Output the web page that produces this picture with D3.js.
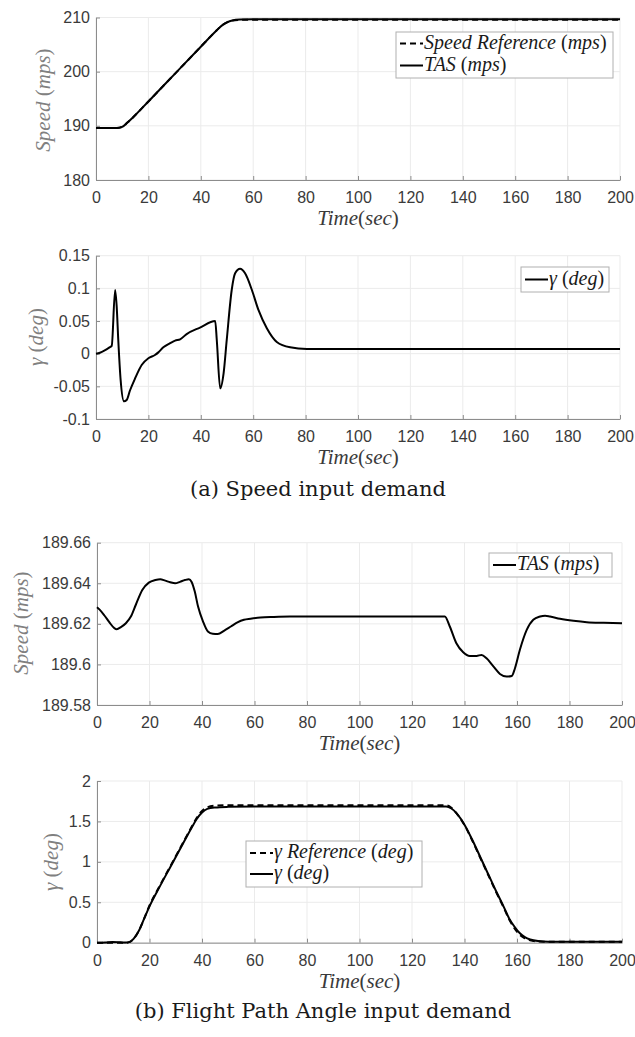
<!DOCTYPE html>
<html>
<head>
  <title>Speed and flight path angle demand</title>
  <style>
    body { margin: 0; background: #fff; }
    svg { display: block; }
    .tick-label { font-family: "Liberation Sans", Arial, sans-serif; font-size: 16px; fill: #3a3a3a; }
    .math { font-family: "Liberation Serif", serif; font-size: 20px; }
    .axis-label { font-size: 21px; }
    .caption { font-family: "DejaVu Serif", serif; font-size: 21px; fill: #1a1a1a; }
  </style>
</head>
<body>
  <script src="https://d3js.org/d3.v7.min.js"></script>
  <script>
// ---- data ----
const timeTicks = [0, 20, 40, 60, 80, 100, 120, 140, 160, 180, 200];

// (a) speed demand: speed panel
const speedRefA = [[0, 189.6], [8, 189.6], [10, 189.8], [12, 190.6], [14, 191.5], [20, 194.5],
  [30, 199.55], [40, 204.6], [46, 207.6], [48, 208.5], [50, 209.1], [52, 209.42],
  [55, 209.56], [60, 209.6], [200, 209.6]];
const tasA = [[0, 189.6], [8, 189.6], [10, 189.8], [12, 190.6], [14, 191.5], [20, 194.5],
  [30, 199.55], [40, 204.6], [46, 207.6], [48, 208.5], [50, 209.1], [52, 209.45],
  [55, 209.62], [60, 209.68], [200, 209.68]];
const speedTicksA = [180, 190, 200, 210];

// (a) speed demand: gamma panel
const gammaA = [[0, 0], [1.5, 0.0015], [5.3, 0.01], [6, 0.012], [7.3, 0.0975], [7.9, 0.072],
  [8.5, 0.021], [9.4, -0.04], [10.7, -0.073], [11.7, -0.071], [13, -0.056], [14.9, -0.038],
  [17.5, -0.017], [20, -0.007], [22.5, -0.002], [23.8, 0.002], [25.7, 0.0097], [28.3, 0.016],
  [30.2, 0.02], [32.1, 0.022], [34.6, 0.03], [39.7, 0.04], [45.5, 0.05], [46.1, 0.021],
  [47.4, -0.053], [48.7, -0.03], [49.9, 0.021], [51.8, 0.0975], [53.1, 0.123], [55, 0.13],
  [56.9, 0.123], [59.5, 0.0975], [62, 0.067], [65.2, 0.039], [69, 0.018], [74.1, 0.0097],
  [80.5, 0.0072], [90, 0.007], [200, 0.007]];
const gammaTicksA = [-0.1, -0.05, 0, 0.05, 0.1, 0.15];
const gammaTickLabelsA = ["-0.1", "-0.05", "0", "0.05", "0.1", "0.15"];

// (b) flight path angle demand: speed panel
const tasB = [[0, 189.6282], [1, 189.627], [2.9, 189.624], [4.75, 189.6207], [6.6, 189.6179],
  [7.5, 189.6174], [9.1, 189.6184], [11, 189.6203], [12.9, 189.6236], [14.75, 189.6293],
  [17.25, 189.6367], [19.75, 189.6403], [22.25, 189.6416], [24.1, 189.642], [26, 189.6413],
  [27.9, 189.6405], [29.75, 189.64], [31.6, 189.6407], [33.5, 189.6416], [35, 189.642],
  [36, 189.6408], [37.25, 189.6359], [38.5, 189.6285], [40.4, 189.6211], [42.25, 189.6162],
  [44.1, 189.6151], [46, 189.615], [48.5, 189.6167], [51, 189.6187], [53.5, 189.6207],
  [56, 189.622], [58.5, 189.6225], [62.25, 189.6231], [67.25, 189.6234], [73.5, 189.6236],
  [132.5, 189.6236], [134.4, 189.6187], [136.9, 189.6104], [139.5, 189.606], [142, 189.6042],
  [144.6, 189.6042], [146.5, 189.6047], [148.4, 189.603], [151, 189.599], [153.5, 189.5953],
  [156, 189.594], [158, 189.5943], [159.2, 189.598], [161.1, 189.6072], [163.7, 189.617],
  [166.2, 189.622], [168.8, 189.6236], [170.7, 189.624], [172.6, 189.6236], [176.4, 189.6225],
  [181.5, 189.6215], [186.6, 189.6208], [193, 189.6205], [200, 189.6203]];
const speedTicksB = [189.58, 189.6, 189.62, 189.64, 189.66];
const speedTickLabelsB = ["189.58", "189.6", "189.62", "189.64", "189.66"];

// (b) flight path angle demand: gamma panel
const gammaRefB = [[0, 0], [11, 0], [12.5, 0.01], [14, 0.05], [16, 0.15], [18, 0.3], [20, 0.46],
  [24, 0.71], [28, 0.95], [32, 1.19], [36, 1.43], [38, 1.545], [40, 1.63], [42, 1.675],
  [45, 1.695], [50, 1.7], [133, 1.7], [135, 1.67], [137, 1.6], [140, 1.455], [143, 1.26],
  [146, 1.05], [149, 0.84], [152, 0.63], [155, 0.43], [157, 0.29], [159, 0.18], [161, 0.1],
  [163, 0.055], [165, 0.03], [168, 0.015], [172, 0.012], [200, 0.012]];
const gammaB = [[0, 0], [3, 0.003], [6, 0.01], [9, 0.005], [11, 0.002], [12.5, 0.01], [14, 0.05],
  [16, 0.15], [18, 0.3], [20, 0.45], [24, 0.7], [28, 0.94], [32, 1.18], [36, 1.42], [38, 1.53],
  [40, 1.61], [42, 1.655], [45, 1.672], [50, 1.68], [60, 1.685], [133, 1.685], [135, 1.66],
  [137, 1.6], [140, 1.46], [143, 1.27], [146, 1.06], [149, 0.85], [152, 0.64], [155, 0.44],
  [157, 0.3], [159, 0.2], [161, 0.12], [163, 0.07], [165, 0.04], [168, 0.02], [172, 0.012],
  [200, 0.012]];
const gammaTicksB = [0, 0.5, 1, 1.5, 2];
const gammaTickLabelsB = ["0", "0.5", "1", "1.5", "2"];

// ---- drawing ----
const W = 635, H = 1037;
const svg = d3.select("body").append("svg").attr("width", W).attr("height", H);

// italic letters, upright punctuation, like LaTeX math
function mathText(sel, str) {
  str.split(/([A-Za-zγ]+)/).filter(s => s.length).forEach(s => {
    sel.append("tspan")
      .attr("font-style", /[A-Za-zγ]/.test(s) ? "italic" : "normal")
      .text(s);
  });
}

function panel(cfg) {
  const x = d3.scaleLinear().domain([0, 200]).range(cfg.xr);
  const y = d3.scaleLinear().domain(cfg.yd).range(cfg.yr);
  const g = svg.append("g");

  // grid
  g.selectAll(".gx").data(timeTicks).join("line")
    .attr("x1", d => x(d)).attr("x2", d => x(d))
    .attr("y1", cfg.yr[0]).attr("y2", cfg.yr[1])
    .attr("stroke", "#ebebeb").attr("stroke-width", 1);
  g.selectAll(".gy").data(cfg.yt).join("line")
    .attr("x1", cfg.xr[0]).attr("x2", cfg.xr[1])
    .attr("y1", d => y(d)).attr("y2", d => y(d))
    .attr("stroke", "#ebebeb").attr("stroke-width", 1);

  // axes (ticks inward)
  const xa = g.append("g").attr("transform", `translate(0,${cfg.yr[0]})`)
    .call(d3.axisBottom(x).tickValues(timeTicks).tickSizeInner(-4).tickSizeOuter(0).tickPadding(12));
  const ya = g.append("g").attr("transform", `translate(${cfg.xr[0]},0)`)
    .call(d3.axisLeft(y).tickValues(cfg.yt).tickSizeInner(-4).tickSizeOuter(0).tickPadding(6)
      .tickFormat((d, i) => cfg.yl ? cfg.yl[i] : d));
  [xa, ya].forEach(a => {
    a.select(".domain").attr("stroke", "#8c8c8c");
    a.selectAll(".tick line").attr("stroke", "#8c8c8c");
    a.selectAll(".tick text").attr("class", "tick-label").attr("fill", null);
    a.attr("font-family", null).attr("font-size", null);
  });

  // lines
  const line = d3.line().x(d => x(d[0])).y(d => y(d[1])).curve(d3.curveMonotoneX);
  cfg.series.forEach(s => {
    g.append("path").datum(s.data).attr("d", line)
      .attr("fill", "none").attr("stroke", "#000").attr("stroke-width", 2)
      .attr("stroke-dasharray", s.dash ? "6,4" : null);
  });

  // axis labels
  const xl = g.append("text").attr("class", "math axis-label").attr("fill", "#3a3a3a")
    .attr("x", (cfg.xr[0] + cfg.xr[1]) / 2).attr("y", cfg.yr[0] + 45);
  xl.attr("text-anchor", "middle");
  mathText(xl, "Time(sec)");
  const yl = g.append("text").attr("class", "math axis-label").attr("fill", "#808080")
    .attr("transform", `translate(${cfg.ylx},${cfg.yly}) rotate(-90)`)
    .attr("text-anchor", "middle").attr("dominant-baseline", "middle");
  mathText(yl, cfg.ylabel);

  // legend
  const lg = cfg.legend;
  const lgG = g.append("g");
  lgG.append("rect").attr("x", lg.x).attr("y", lg.y).attr("width", lg.w).attr("height", lg.h)
    .attr("fill", "#fff").attr("stroke", "#b0b0b0").attr("stroke-width", 1);
  lg.items.forEach((it, i) => {
    const cy = lg.y + lg.first + i * lg.step;
    lgG.append("line").attr("x1", lg.x + 4).attr("x2", lg.x + 27).attr("y1", cy).attr("y2", cy)
      .attr("stroke", "#000").attr("stroke-width", 2).attr("stroke-dasharray", it.dash ? "6,4" : null);
    const t = lgG.append("text").attr("class", "math").attr("fill", "#1a1a1a")
      .attr("x", lg.x + 28).attr("y", cy).attr("dominant-baseline", "middle");
    mathText(t, it.label);
  });
}

panel({
  xr: [96, 620], yr: [180, 17.5], yd: [180, 210], yt: speedTicksA,
  series: [{ data: speedRefA, dash: true }, { data: tasA }],
  ylx: 45, yly: 100, ylabel: "Speed (mps)",
  legend: { x: 396, y: 32, w: 217, h: 46, first: 11.5, step: 22,
    items: [{ label: "Speed Reference (mps)", dash: true }, { label: "TAS (mps)" }] }
});
panel({
  xr: [96, 620], yr: [419, 255.7], yd: [-0.1, 0.15], yt: gammaTicksA, yl: gammaTickLabelsA,
  series: [{ data: gammaA }],
  ylx: 38, yly: 337, ylabel: "γ (deg)",
  legend: { x: 521, y: 267, w: 88, h: 25, first: 12.5, step: 22,
    items: [{ label: "γ (deg)" }] }
});
panel({
  xr: [97, 622], yr: [705, 542.7], yd: [189.58, 189.66], yt: speedTicksB, yl: speedTickLabelsB,
  series: [{ data: tasB }],
  ylx: 23, yly: 623, ylabel: "Speed (mps)",
  legend: { x: 489, y: 553, w: 123, h: 24, first: 12, step: 22,
    items: [{ label: "TAS (mps)" }] }
});
panel({
  xr: [97, 622], yr: [942.7, 781], yd: [0, 2], yt: gammaTicksB, yl: gammaTickLabelsB,
  series: [{ data: gammaRefB, dash: true }, { data: gammaB }],
  ylx: 53, yly: 862, ylabel: "γ (deg)",
  legend: { x: 246, y: 841, w: 176, h: 46, first: 12, step: 21,
    items: [{ label: "γ Reference (deg)", dash: true }, { label: "γ (deg)" }] }
});

svg.append("text").attr("class", "caption").attr("x", 318).attr("y", 490)
  .attr("text-anchor", "middle").attr("dominant-baseline", "middle").text("(a) Speed input demand");
svg.append("text").attr("class", "caption").attr("x", 323).attr("y", 1012)
  .attr("text-anchor", "middle").attr("dominant-baseline", "middle").text("(b) Flight Path Angle input demand");
  </script>
</body>
</html>
